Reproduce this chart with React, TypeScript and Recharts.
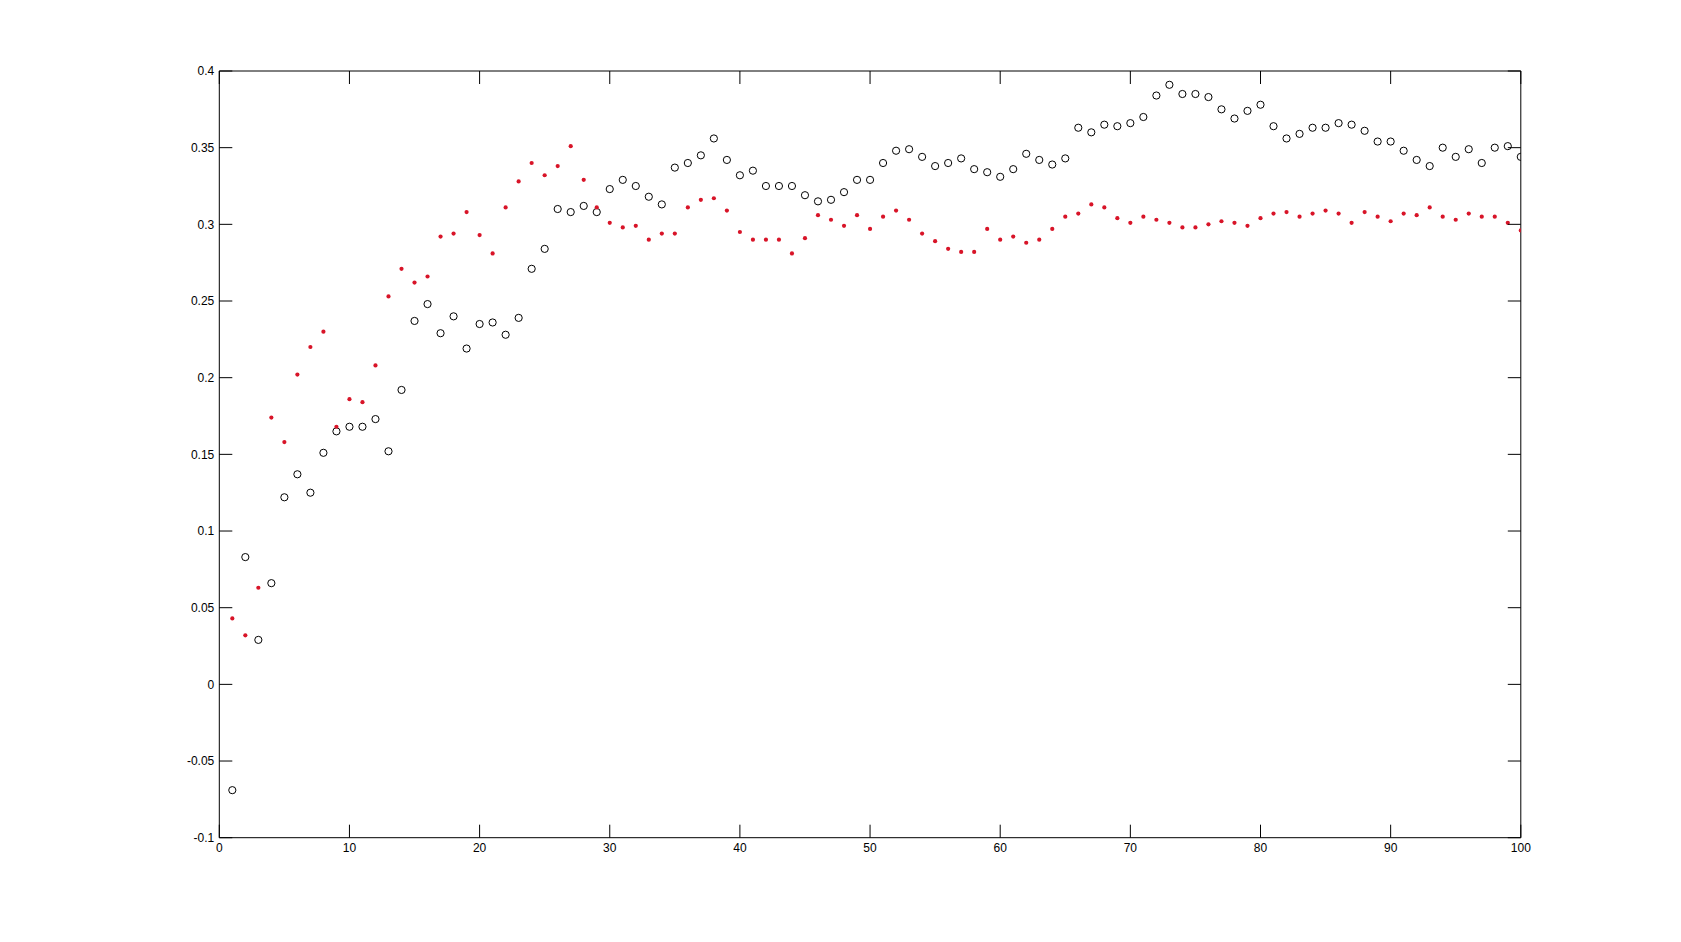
import { ScatterChart, Scatter, XAxis, YAxis, ReferenceLine } from 'recharts';

// black open circles, one value per step (1..100)
const circleValues = [
  -0.069, 0.083, 0.029, 0.066, 0.122, 0.137, 0.125, 0.151, 0.165, 0.168,
  0.168, 0.173, 0.152, 0.192, 0.237, 0.248, 0.229, 0.240, 0.219, 0.235,
  0.236, 0.228, 0.239, 0.271, 0.284, 0.310, 0.308, 0.312, 0.308, 0.323,
  0.329, 0.325, 0.318, 0.313, 0.337, 0.340, 0.345, 0.356, 0.342, 0.332,
  0.335, 0.325, 0.325, 0.325, 0.319, 0.315, 0.316, 0.321, 0.329, 0.329,
  0.340, 0.348, 0.349, 0.344, 0.338, 0.340, 0.343, 0.336, 0.334, 0.331,
  0.336, 0.346, 0.342, 0.339, 0.343, 0.363, 0.360, 0.365, 0.364, 0.366,
  0.370, 0.384, 0.391, 0.385, 0.385, 0.383, 0.375, 0.369, 0.374, 0.378,
  0.364, 0.356, 0.359, 0.363, 0.363, 0.366, 0.365, 0.361, 0.354, 0.354,
  0.348, 0.342, 0.338, 0.350, 0.344, 0.349, 0.340, 0.350, 0.351, 0.344,
];

// red dots
const dotValues = [
  0.043, 0.032, 0.063, 0.174, 0.158, 0.202, 0.220, 0.230, 0.168, 0.186,
  0.184, 0.208, 0.253, 0.271, 0.262, 0.266, 0.292, 0.294, 0.308, 0.293,
  0.281, 0.311, 0.328, 0.340, 0.332, 0.338, 0.351, 0.329, 0.311, 0.301,
  0.298, 0.299, 0.290, 0.294, 0.294, 0.311, 0.316, 0.317, 0.309, 0.295,
  0.290, 0.290, 0.290, 0.281, 0.291, 0.306, 0.303, 0.299, 0.306, 0.297,
  0.305, 0.309, 0.303, 0.294, 0.289, 0.284, 0.282, 0.282, 0.297, 0.290,
  0.292, 0.288, 0.290, 0.297, 0.305, 0.307, 0.313, 0.311, 0.304, 0.301,
  0.305, 0.303, 0.301, 0.298, 0.298, 0.300, 0.302, 0.301, 0.299, 0.304,
  0.307, 0.308, 0.305, 0.307, 0.309, 0.307, 0.301, 0.308, 0.305, 0.302,
  0.307, 0.306, 0.311, 0.305, 0.303, 0.307, 0.305, 0.305, 0.301, 0.296,
];

const xTicks = [0, 10, 20, 30, 40, 50, 60, 70, 80, 90, 100];
const yTicks = [-0.1, -0.05, 0, 0.05, 0.1, 0.15, 0.2, 0.25, 0.3, 0.35, 0.4];

const circleData = circleValues.map((v, i) => ({ x: i + 1, y: v }));
const dotData = dotValues.map((v, i) => ({ x: i + 1, y: v }));

const FONT = '"Liberation Sans", Arial, sans-serif';
const TICK_LEN = 13;

// plot box edges inside the svg (matches the margins below)
const W = 1665;
const H = 926;
const margin = { top: 63, right: 152.2, bottom: 66.3, left: 151.3 };
const Y_AXIS_W = 60;
const X_AXIS_H = 30;
const LEFT = margin.left + Y_AXIS_W;
const RIGHT = W - margin.right;
const TOP = margin.top;
const BOTTOM = H - margin.bottom - X_AXIS_H;

// ticks point inwards, on bottom and top
const XTick = (props: any) => {
  const { payload } = props;
  const x = payload.coordinate;
  return (
    <g>
      <line x1={x} y1={BOTTOM} x2={x} y2={BOTTOM - TICK_LEN} stroke="#000" />
      <line x1={x} y1={TOP} x2={x} y2={TOP + TICK_LEN} stroke="#000" />
      <text x={x} y={BOTTOM + 6} dy="0.71em" textAnchor="middle" fontSize={12} fontFamily={FONT} fill="#000">
        {payload.value}
      </text>
    </g>
  );
};

// same on left and right
const YTick = (props: any) => {
  const { payload } = props;
  const y = payload.coordinate;
  return (
    <g>
      <line x1={LEFT} y1={y} x2={LEFT + TICK_LEN} y2={y} stroke="#000" />
      <line x1={RIGHT} y1={y} x2={RIGHT - TICK_LEN} y2={y} stroke="#000" />
      <text x={LEFT - 5} y={y} dy="0.355em" textAnchor="end" fontSize={12} fontFamily={FONT} fill="#000">
        {payload.value}
      </text>
    </g>
  );
};

const OpenCircle = (props: any) => (
  <circle cx={props.cx} cy={props.cy} r={3.6} fill="none" stroke="#000" strokeWidth={1} />
);

const RedDot = (props: any) => (
  <circle cx={props.cx} cy={props.cy} r={2.1} fill="#d81428" />
);

export default function App() {
  return (
    <div style={{ width: W, height: H, background: '#fff' }}>
      <ScatterChart width={W} height={H} margin={margin}>
        <XAxis
          type="number"
          dataKey="x"
          domain={[0, 100]}
          ticks={xTicks}
          allowDataOverflow
          height={X_AXIS_H}
          tickLine={false}
          axisLine={{ stroke: '#000' }}
          tick={<XTick />}
          interval={0}
        />
        <YAxis
          type="number"
          dataKey="y"
          domain={[-0.1, 0.4]}
          ticks={yTicks}
          allowDataOverflow
          width={Y_AXIS_W}
          tickLine={false}
          axisLine={{ stroke: '#000' }}
          tick={<YTick />}
          interval={0}
        />
        <ReferenceLine y={0.4} stroke="#000" />
        <ReferenceLine x={100} stroke="#000" />
        <Scatter data={circleData} shape={<OpenCircle />} isAnimationActive={false} />
        <Scatter data={dotData} shape={<RedDot />} isAnimationActive={false} />
      </ScatterChart>
    </div>
  );
}
